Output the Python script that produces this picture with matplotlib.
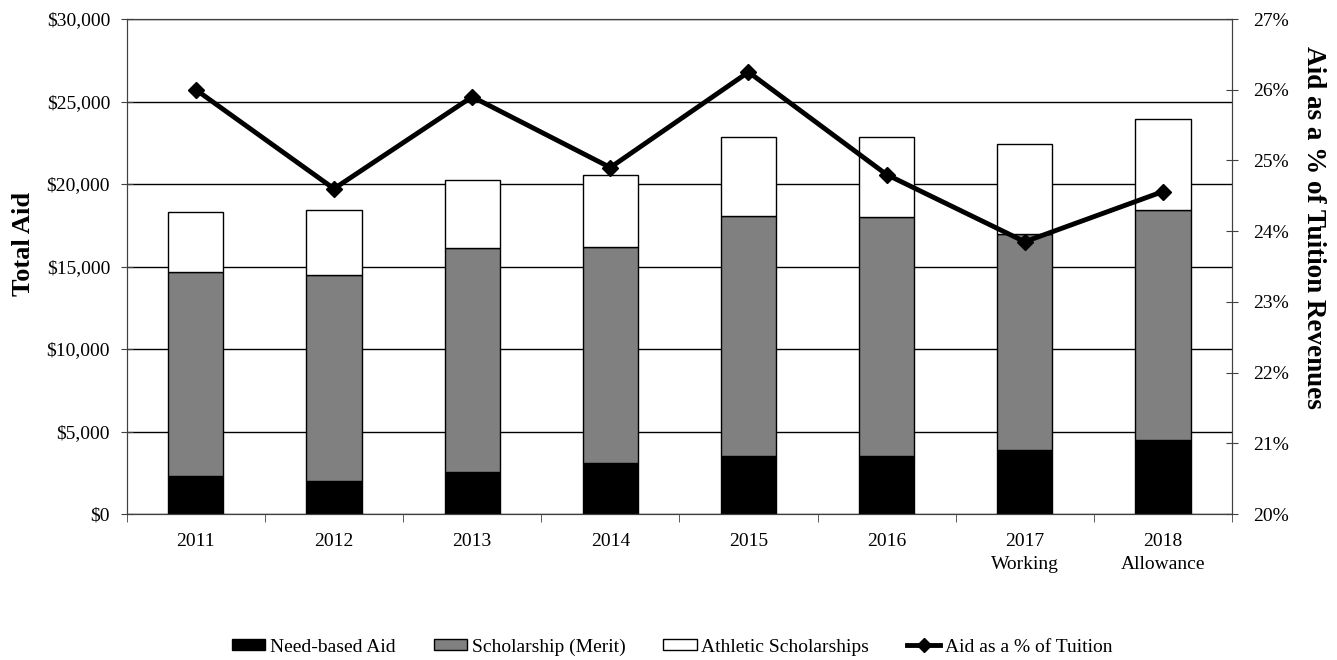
import matplotlib.pyplot as plt
import numpy as np
from matplotlib.ticker import FuncFormatter, MultipleLocator
from matplotlib.lines import Line2D
from matplotlib.patches import Patch

plt.rcParams['font.family'] = ['Liberation Serif', 'DejaVu Serif']

years = ["2011", "2012", "2013", "2014", "2015", "2016", "2017\nWorking", "2018\nAllowance"]
need_based = [2330, 1980, 2570, 3100, 3530, 3530, 3880, 4490]
merit = [12350, 12510, 13550, 13090, 14550, 14470, 13080, 13940]
athletic = [3650, 3920, 4130, 4380, 4780, 4860, 5490, 5490]
aid_pct = [26.0, 24.6, 25.9, 24.9, 26.25, 24.8, 23.85, 24.56]

fig = plt.figure(figsize=(13.37, 6.6), dpi=100)
ax = fig.add_axes([0.0948, 0.2212, 0.8267, 0.75])

x = np.arange(len(years))
w = 0.4
need_arr = np.array(need_based)
merit_arr = np.array(merit)
ax.bar(x, need_arr, w, color="black", edgecolor="black", linewidth=1, zorder=2)
ax.bar(x, merit_arr, w, bottom=need_arr, color="#808080", edgecolor="black", linewidth=1, zorder=2)
ax.bar(x, athletic, w, bottom=need_arr + merit_arr, color="white", edgecolor="black", linewidth=1, zorder=2)

ax.set_xlim(-0.5, len(years) - 0.5)
ax.set_ylim(0, 30000)
ax.yaxis.set_major_locator(MultipleLocator(5000))
ax.yaxis.set_major_formatter(FuncFormatter(lambda v, p: "${:,.0f}".format(v)))
ax.grid(axis="y", color="black", linewidth=1)
ax.set_axisbelow(True)
ax.set_xticks(x)
ax.set_xticklabels(years, fontsize=14, linespacing=1.4)
ax.set_xticks(np.arange(-0.5, len(years)), minor=True)
ax.tick_params(axis="x", which="major", length=0, pad=14)
ax.tick_params(axis="x", which="minor", length=6, direction="out", color="#404040")
ax.tick_params(axis="y", length=8, direction="inout", labelsize=14, color="#404040", pad=8)
ax.set_ylabel("Total Aid", fontsize=19, fontweight="bold")
ax.yaxis.set_label_coords(-0.083, 0.545)
for s in ax.spines.values():
    s.set_color("#404040")

ax2 = ax.twinx()
ax2.plot(x, aid_pct, color="black", linewidth=3.5, marker="D", markersize=8, zorder=3)
ax2.set_ylim(20, 27)
ax2.yaxis.set_major_locator(MultipleLocator(1))
ax2.yaxis.set_major_formatter(FuncFormatter(lambda v, p: "{:.0f}%".format(v)))
ax2.tick_params(axis="y", length=8, direction="inout", labelsize=14, color="#404040", pad=11)
ax2.set_ylabel("Aid as a % of Tuition Revenues", fontsize=19.5, fontweight="bold",
               rotation=270, va="center")
ax2.yaxis.set_label_coords(1.074, 0.578)
for s in ax2.spines.values():
    s.set_color("#404040")

handles = [
    Patch(facecolor="black", edgecolor="black", label="Need-based Aid"),
    Patch(facecolor="#808080", edgecolor="black", label="Scholarship (Merit)"),
    Patch(facecolor="white", edgecolor="black", label="Athletic Scholarships"),
    Line2D([], [], color="black", linewidth=3.5, marker="D", markersize=7, label="Aid as a % of Tuition"),
]
fig.legend(handles=handles, loc="center", bbox_to_anchor=(0.503, 0.0197), ncol=4,
           frameon=False, fontsize=14, handlelength=1.7, handleheight=0.5,
           handletextpad=0.25, columnspacing=1.95)

fig.savefig("out.png", dpi=100)
